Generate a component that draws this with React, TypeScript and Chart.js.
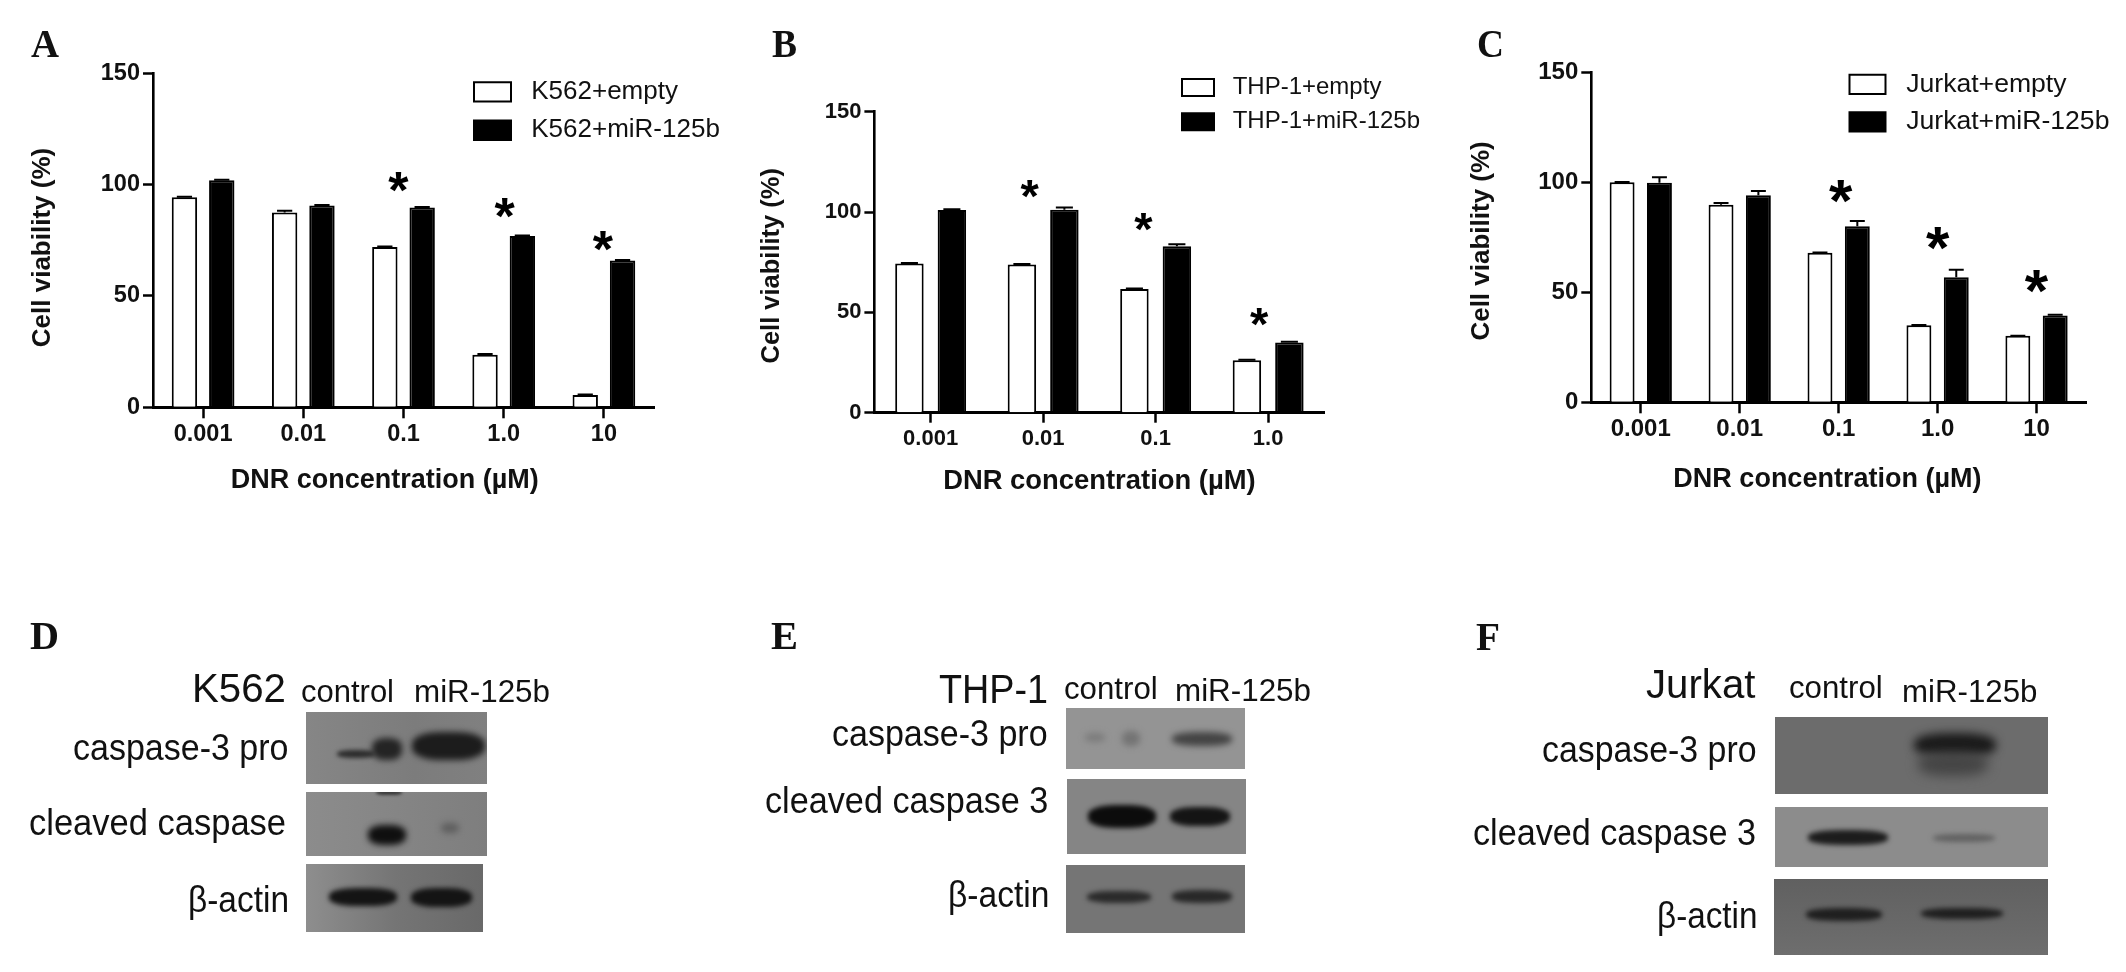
import React, { useEffect, useRef } from "react";
import { Chart, registerables } from "chart.js";

Chart.register(...registerables);

// ---------- data ----------
const dosesFive = ["0.001", "0.01", "0.1", "1.0", "10"];
const dosesFour = ["0.001", "0.01", "0.1", "1.0"];
const yTicks = [0, 50, 100, 150];

const k562Empty = [94.3, 87.5, 72, 23.6, 5.5];
const k562EmptyErr = [0.3, 0.8, 0.2, 0.3, 0.2];
const k562Mir = [102, 90.6, 89.7, 76.9, 65.9];
const k562MirErr = [0.2, 0.2, 0.3, 0.2, 0.2];
const k562StarAt = [1.95, 3.01, 3.99];
const k562StarValue = [101.3, 89.3, 74.5];

const thpEmpty = [74.3, 73.8, 61.6, 26.1];
const thpEmptyErr = [0.3, 0.3, 0.3, 0.3];
const thpMir = [101, 101.2, 82.9, 35];
const thpMirErr = [0.4, 1, 1, 0.4];
const thpStarAt = [0.88, 1.89, 2.92];
const thpStarValue = [111.5, 94.9, 47.5];

const jurkatEmpty = [100, 89.8, 68, 35, 30.2];
const jurkatEmptyErr = [0.1, 0.8, 0.1, 0.1, 0.1];
const jurkatMir = [99.8, 94.1, 80, 56.8, 39.4];
const jurkatMirErr = [2.5, 2, 2.4, 3.5, 0.4];
const jurkatStarAt = [2.02, 3.0, 4.0];
const jurkatStarValue = [96, 74.4, 55];

const xTitle = "DNR concentration (µM)";
const yTitle = "Cell viability (%)";

// ---------- layout (page pixels) ----------
const SANS = '"Liberation Sans", Arial, sans-serif';
const SERIF = '"Liberation Serif", "Times New Roman", serif';
const CANVAS_H = 520;

type Panel = {
  labels: string[]; names: string[]; a: number[]; aErr: number[]; b: number[]; bErr: number[];
  starAt: number[]; starValue: number[]; starSize: number;
  pageLeft: number; pageWidth: number; plotLeft: number; plotRight: number; plotTop: number; plotBottom: number;
  catPct: number; barPct: number; tickFont: number; xFont: number; yFont: number; xTick: number; xTickPad: number;
  xPad: string; yPad: string; yTitleX: number; xTitleY: number;
  legendX: number; legendY: number; legendFont: number; boxW: number; boxH: number; legendStep: number;
};

const panels: Panel[] = [
  {
    labels: dosesFive, names: ["K562+empty", "K562+miR-125b"], a: k562Empty, aErr: k562EmptyErr, b: k562Mir, bErr: k562MirErr,
    starAt: k562StarAt, starValue: k562StarValue, starSize: 52,
    pageLeft: 0, pageWidth: 730, plotLeft: 153, plotRight: 654, plotTop: 73.3, plotBottom: 407.3,
    catPct: 0.745, barPct: 0.68, tickFont: 23.5, xFont: 27, yFont: 26, xTick: 11, xTickPad: 2, xPad: "     ", yPad: "  ", yTitleX: 43, xTitleY: 481,
    legendX: 474, legendY: 82.3, legendFont: 26, boxW: 37, boxH: 19.3, legendStep: 38.3,
  },
  {
    labels: dosesFour, names: ["THP-1+empty", "THP-1+miR-125b"], a: thpEmpty, aErr: thpEmptyErr, b: thpMir, bErr: thpMirErr,
    starAt: thpStarAt, starValue: thpStarValue, starSize: 47,
    pageLeft: 745, pageWidth: 680, plotLeft: 874.4, plotRight: 1324.4, plotTop: 111.7, plotBottom: 412.7,
    catPct: 0.755, barPct: 0.67, tickFont: 22, xFont: 27.4, yFont: 25.5, xTick: 10, xTickPad: 3, xPad: "", yPad: " ", yTitleX: 772, xTitleY: 481.7,
    legendX: 1182, legendY: 79, legendFont: 24, boxW: 32, boxH: 17, legendStep: 34.3,
  },
  {
    labels: dosesFive, names: ["Jurkat+empty", "Jurkat+miR-125b"], a: jurkatEmpty, aErr: jurkatEmptyErr, b: jurkatMir, bErr: jurkatMirErr,
    starAt: jurkatStarAt, starValue: jurkatStarValue, starSize: 60,
    pageLeft: 1440, pageWidth: 686, plotLeft: 1591.3, plotRight: 2086, plotTop: 72.3, plotBottom: 402.3,
    catPct: 0.755, barPct: 0.667, tickFont: 24, xFont: 27, yFont: 26, xTick: 11, xTickPad: 2, xPad: "   ", yPad: " ", yTitleX: 1481.6, xTitleY: 480,
    legendX: 1849.5, legendY: 74.7, legendFont: 26.6, boxW: 36, boxH: 19.3, legendStep: 37.6,
  },
];

// ---------- text labels placed on the page ----------
type Txt = { t: string; l: number; r: number; base: number; size: number; serif?: boolean };
const pageTexts: Txt[] = [
  { t: "A", l: 31, r: 59, base: 58, size: 40, serif: true },
  { t: "B", l: 772, r: 797, base: 58, size: 40, serif: true },
  { t: "C", l: 1477, r: 1504, base: 57.5, size: 40, serif: true },
  { t: "D", l: 30, r: 59, base: 650, size: 40, serif: true },
  { t: "E", l: 771, r: 798, base: 650, size: 40, serif: true },
  { t: "F", l: 1476, r: 1500, base: 650.7, size: 40, serif: true },
  { t: "K562", l: 192, r: 286, base: 701.7, size: 40 },
  { t: "control", l: 301, r: 394, base: 701.7, size: 32 },
  { t: "miR-125b", l: 414, r: 550, base: 701.7, size: 32 },
  { t: "caspase-3 pro", l: 72.5, r: 288, base: 760, size: 37 },
  { t: "cleaved caspase", l: 29, r: 286, base: 835, size: 37 },
  { t: "β-actin", l: 188, r: 289, base: 912.7, size: 37 },
  { t: "THP-1", l: 939, r: 1048, base: 703.3, size: 40 },
  { t: "control", l: 1063.7, r: 1157.4, base: 699.3, size: 32 },
  { t: "miR-125b", l: 1175, r: 1311, base: 700.7, size: 32 },
  { t: "caspase-3 pro", l: 832.4, r: 1048, base: 746, size: 37 },
  { t: "cleaved caspase 3", l: 764.6, r: 1048, base: 813.3, size: 37 },
  { t: "β-actin", l: 947.6, r: 1049, base: 907.3, size: 37 },
  { t: "Jurkat", l: 1645.6, r: 1755, base: 698.3, size: 40 },
  { t: "control", l: 1789, r: 1882.7, base: 698.3, size: 32 },
  { t: "miR-125b", l: 1901.5, r: 2037, base: 701.7, size: 32 },
  { t: "caspase-3 pro", l: 1541.5, r: 1756, base: 762.7, size: 37 },
  { t: "cleaved caspase 3", l: 1473, r: 1756, base: 845, size: 37 },
  { t: "β-actin", l: 1656.5, r: 1757, base: 928.3, size: 37 },
];

// ---------- western-blot strips (page pixels) ----------
type Band = { x: number; y: number; w: number; h: number; c: string; b: number };
type Strip = { x0: number; x1: number; y0: number; y1: number; bg: string; bands: Band[] };
const strips: Strip[] = [
  { x0: 306, x1: 486.7, y0: 711.7, y1: 784, bg: "linear-gradient(90deg,#868686,#7c7c7c 60%,#808080)", bands: [
    { x: 337, y: 750, w: 38, h: 8, c: "#2c2c2c", b: 2 }, { x: 372, y: 738, w: 30, h: 22, c: "#242424", b: 3 },
    { x: 412, y: 732, w: 73, h: 28, c: "#1c1c1c", b: 3 } ] },
  { x0: 306, x1: 486.7, y0: 791.7, y1: 856, bg: "linear-gradient(90deg,#8c8c8c,#7e7e7e)", bands: [
    { x: 368, y: 825, w: 38, h: 20, c: "#0f0f0f", b: 3 }, { x: 441, y: 823, w: 18, h: 10, c: "#5e5e5e", b: 3 },
    { x: 376, y: 790, w: 26, h: 5, c: "#3a3a3a", b: 1.5 } ] },
  { x0: 306, x1: 483, y0: 864, y1: 931.7, bg: "linear-gradient(90deg,#8e8e8e,#757575 50%,#696969)", bands: [
    { x: 329, y: 888, w: 68, h: 18, c: "#141414", b: 2.5 }, { x: 411, y: 888, w: 61, h: 19, c: "#141414", b: 2.5 } ] },
  { x0: 1066, x1: 1244.5, y0: 707.7, y1: 769.3, bg: "#949494", bands: [
    { x: 1085, y: 733, w: 20, h: 9, c: "#7c7c7c", b: 3 }, { x: 1122, y: 731, w: 18, h: 15, c: "#747474", b: 3 },
    { x: 1172, y: 732, w: 60, h: 14, c: "#444", b: 3 } ] },
  { x0: 1067, x1: 1246, y0: 779.3, y1: 854, bg: "#858585", bands: [
    { x: 1088, y: 805, w: 68, h: 23, c: "#0c0c0c", b: 2.5 }, { x: 1170, y: 807, w: 60, h: 19, c: "#141414", b: 2.5 } ] },
  { x0: 1066, x1: 1244.5, y0: 865, y1: 933.3, bg: "#757575", bands: [
    { x: 1087, y: 891, w: 64, h: 12, c: "#2a2a2a", b: 2.5 }, { x: 1172, y: 890, w: 60, h: 13, c: "#282828", b: 2.5 } ] },
  { x0: 1775, x1: 2048, y0: 716.7, y1: 794, bg: "#6c6c6c", bands: [
    { x: 1914, y: 733, w: 82, h: 24, c: "#1a1a1a", b: 5 }, { x: 1918, y: 752, w: 70, h: 24, c: "#454545", b: 6 } ] },
  { x0: 1775, x1: 2048, y0: 806.7, y1: 867, bg: "#8c8c8c", bands: [
    { x: 1808, y: 830, w: 80, h: 15, c: "#1c1c1c", b: 2.5 }, { x: 1933, y: 834, w: 62, h: 8, c: "#626262", b: 2.5 } ] },
  { x0: 1774, x1: 2048, y0: 879.3, y1: 955, bg: "linear-gradient(180deg,#606060,#6e6e6e)", bands: [
    { x: 1806, y: 908, w: 76, h: 13, c: "#1f1f1f", b: 2.5 }, { x: 1921, y: 908, w: 82, h: 11, c: "#1f1f1f", b: 2.5 } ] },
];

// ---------- plugins ----------
function makeMarks(p: Panel) {
  return {
    id: "marks",
    afterLayout(chart: any) {
      // puts the library's own legend where the reference has it
      const lg = chart.legend;
      const pad = lg.options.labels.padding;
      lg.left = p.legendX - p.pageLeft - pad;
      lg.top = p.legendY - pad - Math.max(0, (p.legendFont - p.boxH) / 2);
      lg.right = lg.left + 400;
      lg.bottom = lg.top + 150;
      lg.width = 400;
      lg.height = 150;
    },
    afterDatasetsDraw(chart: any) {
      const ctx = chart.ctx;
      const y = chart.scales.y;
      const x = chart.scales.x;
      ctx.save();
      ctx.strokeStyle = "#000";
      ctx.lineWidth = 2;
      [p.aErr, p.bErr].forEach((errs, di) => {
        const vals = di === 0 ? p.a : p.b;
        chart.getDatasetMeta(di).data.forEach((bar: any, i: number) => {
          const top = y.getPixelForValue(vals[i] + errs[i]);
          const base = y.getPixelForValue(vals[i]);
          const half = bar.width * 0.3;
          ctx.beginPath();
          ctx.moveTo(bar.x, base);
          ctx.lineTo(bar.x, top);
          ctx.moveTo(bar.x - half, top);
          ctx.lineTo(bar.x + half, top);
          ctx.stroke();
        });
      });
      ctx.fillStyle = "#000";
      ctx.textAlign = "center";
      ctx.textBaseline = "alphabetic";
      ctx.font = `bold ${p.starSize}px ${SANS}`;
      const m = ctx.measureText("*");
      p.starAt.forEach((at, i) => {
        const py = y.getPixelForValue(p.starValue[i]) + (m.actualBoundingBoxAscent - m.actualBoundingBoxDescent) / 2;
        ctx.fillText("*", x.getPixelForValue(at), py);
      });
      ctx.restore();
    },
  };
}

function PanelChart({ p }: { p: Panel }) {
  const ref = useRef<HTMLCanvasElement | null>(null);
  useEffect(() => {
    const toC = (px: number) => px - p.pageLeft;
    const yLine = p.yFont * 1.2;
    const xLine = p.xFont * 1.2;
    const padLeft = toC(p.yTitleX) - yLine / 2;
    const padBottom = CANVAS_H - (p.xTitleY + xLine / 2);
    const chart = new Chart(ref.current as HTMLCanvasElement, {
      type: "bar",
      data: {
        labels: p.labels,
        datasets: [
          { label: p.names[0], data: p.a, backgroundColor: "#fff", borderColor: "#000", borderWidth: 2, categoryPercentage: p.catPct, barPercentage: p.barPct },
          { label: p.names[1], data: p.b, backgroundColor: "#000", borderColor: "#000", borderWidth: 2, categoryPercentage: p.catPct, barPercentage: p.barPct },
        ],
      },
      options: {
        animation: false,
        responsive: false,
        devicePixelRatio: 1,
        layout: {
          padding: { left: padLeft, right: p.pageWidth - toC(p.plotRight), top: p.plotTop, bottom: padBottom },
        },
        plugins: {
          tooltip: { enabled: false },
          legend: {
            display: true,
            position: "chartArea",
            align: "start",
            labels: {
              color: "#111",
              font: { family: SANS, size: p.legendFont },
              boxWidth: p.boxW,
              boxHeight: p.boxH,
              padding: p.legendStep - Math.max(p.legendFont, p.boxH),
              generateLabels: (c: any) =>
                (Chart.defaults.plugins.legend.labels.generateLabels as any)(c).map((it: any) => ({ ...it, text: " " + it.text })),
            },
          },
        },
        scales: {
          x: {
            type: "category",
            afterFit: (s: any) => { s.height = p.xTitleY + xLine / 2 - p.plotBottom; },
            grid: { display: true, offset: false, drawOnChartArea: false, drawTicks: true, tickLength: p.xTick, tickWidth: 2.5, tickColor: "#000" },
            border: { display: true, color: "#000", width: 3 },
            ticks: { color: "#111", padding: p.xTickPad, maxRotation: 0, autoSkip: false, font: { family: SANS, size: p.tickFont, weight: "bold" } },
            title: { display: true, text: xTitle + p.xPad, color: "#111", padding: 0, font: { family: SANS, size: p.xFont, weight: "bold" } },
          },
          y: {
            min: 0,
            max: yTicks[yTicks.length - 1],
            afterBuildTicks: (s: any) => { s.ticks = yTicks.map((value) => ({ value })); },
            afterFit: (s: any) => { s.width = toC(p.plotLeft) - padLeft; },
            grid: { display: true, drawOnChartArea: false, drawTicks: true, tickLength: 10, tickWidth: 2.5, tickColor: "#000" },
            border: { display: true, color: "#000", width: 2.6 },
            ticks: { color: "#111", padding: 3, font: { family: SANS, size: p.tickFont, weight: "bold" } },
            title: { display: true, text: yTitle + p.yPad, color: "#111", padding: 0, font: { family: SANS, size: p.yFont, weight: "bold" } },
          },
        },
      } as any,
      plugins: [makeMarks(p)],
    });
    return () => chart.destroy();
  }, [p]);
  return (
    <div style={{ position: "absolute", left: p.pageLeft, top: 0 }}>
      <canvas ref={ref} width={p.pageWidth} height={CANVAS_H} />
    </div>
  );
}

function FitText({ d }: { d: Txt }) {
  const family = d.serif ? SERIF : SANS;
  const weight = d.serif ? "bold " : "";
  const c = document.createElement("canvas").getContext("2d") as CanvasRenderingContext2D;
  c.font = `${weight}${d.size}px ${family}`;
  const sx = (d.r - d.l) / c.measureText(d.t).width;
  return (
    <span
      style={{
        position: "absolute", left: d.l, top: d.base - d.size * 0.8465, fontFamily: family, fontSize: d.size,
        fontWeight: d.serif ? 700 : 400, lineHeight: 1, color: "#111", whiteSpace: "pre",
        transformOrigin: "0 0", transform: `scaleX(${sx})`,
      }}
    >
      {d.t}
    </span>
  );
}

function BlotStrip({ s }: { s: Strip }) {
  return (
    <div style={{ position: "absolute", left: s.x0, top: s.y0, width: s.x1 - s.x0, height: s.y1 - s.y0, background: s.bg, overflow: "hidden" }}>
      {s.bands.map((b, i) => (
        <div
          key={i}
          style={{
            position: "absolute", left: b.x - s.x0, top: b.y - s.y0, width: b.w, height: b.h, background: b.c,
            borderRadius: "40%", filter: `blur(${b.b}px)`,
          }}
        />
      ))}
    </div>
  );
}

export default function App() {
  useEffect(() => {
    document.body.style.margin = "0";
    document.body.style.background = "#fff";
  }, []);
  return (
    <div style={{ position: "absolute", left: 0, top: 0, width: 2126, height: 972, overflow: "hidden", background: "#fff" }}>
      {panels.map((p, i) => <PanelChart key={i} p={p} />)}
      {strips.map((s, i) => <BlotStrip key={i} s={s} />)}
      {pageTexts.map((d, i) => <FitText key={i} d={d} />)}
    </div>
  );
}
